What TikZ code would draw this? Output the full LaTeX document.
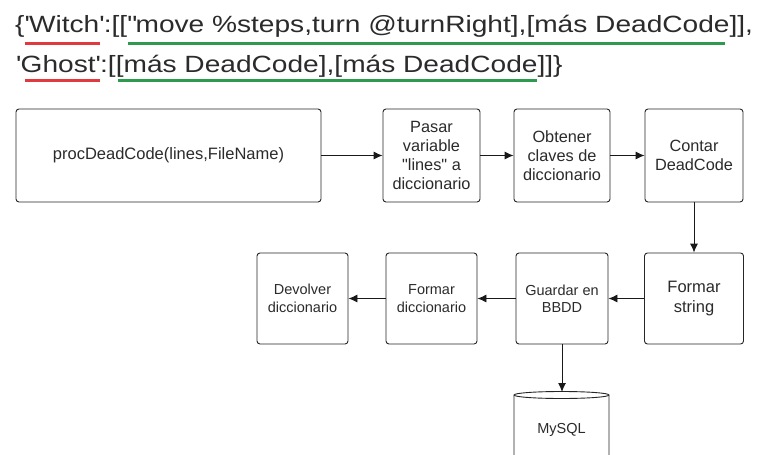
\documentclass[tikz,border=0pt]{standalone}
\usepackage{fontspec}
\usetikzlibrary{arrows.meta}
\setmainfont{Liberation Sans}
\newfontfamily\codefont[FakeStretch=1.196]{Liberation Sans}
\definecolor{tinta}{HTML}{2B2B2B}
\definecolor{rojo}{HTML}{E0393E}
\definecolor{verde}{HTML}{2E9A4E}
\tikzset{
	paso/.style={draw=black!85, line width=0.9pt, rounded corners=3pt, fill=white, align=center, text=tinta, inner sep=2pt, minimum height=93pt, font=\fontsize{16.3}{19}\selectfont},
	pasoB/.style={paso, minimum height=91pt, font=\fontsize{14.5}{17.5}\selectfont},
	flecha/.style={-{Latex[length=9pt,width=8pt]}, line width=0.9pt, black!90},
	subraya/.style={line width=3pt},
}

\begin{document}
\begin{tikzpicture}[x=1pt,y=-1pt]
		\clip (0,0) rectangle (758,455);
		\fill[white] (0,0) rectangle (758,455);
		
		\node (linea1) [at={(15,32)}, anchor=base west, inner sep=0, text=tinta, font=\codefont\fontsize{23.5}{28}\selectfont] {\{\textquotesingle Witch\textquotesingle :[[\textquotedbl move \%steps,turn @turnRight],[más DeadCode]],};
		\node (linea2) [at={(16,72)}, anchor=base west, inner sep=0, text=tinta, font=\codefont\fontsize{23.5}{28}\selectfont] {\textquotesingle Ghost\textquotesingle :[[más DeadCode],[más DeadCode]]\}};
		\draw[subraya, rojo] (25,43) -- (100,43);
		\draw[subraya, verde] (128,43) -- (725,43);
		\draw[subraya, rojo] (25,80.5) -- (100,80.5);
		\draw[subraya, verde] (118,80.5) -- (537,80.5);
		
		\node (proc) [paso, at={(168.5,155.5)}, minimum width=305pt, font=\fontsize{16.5}{19}\selectfont] {procDeadCode(lines,FileName)};
		\node (pasar) [paso, at={(431.5,155.5)}, minimum width=97pt] {Pasar\\variable\\\textquotedbl lines\textquotedbl{} a\\diccionario};
		\node (obtener) [paso, at={(562,155.5)}, minimum width=96pt] {Obtener\\claves de\\diccionario};
		\node (contar) [paso, at={(694,155.5)}, minimum width=98pt] {Contar\\DeadCode};
		
		\node (fstring) [pasoB, at={(694,298.5)}, minimum width=99pt, font=\fontsize{16.5}{20}\selectfont] {Formar\\string};
		\node (guardar) [pasoB, at={(562,298.5)}, minimum width=92pt] {Guardar en\\BBDD};
		\node (fdicc) [pasoB, at={(431.5,298.5)}, minimum width=91pt] {Formar\\diccionario};
		\node (devolver) [pasoB, at={(302.5,298.5)}, minimum width=91pt] {Devolver\\diccionario};
		
		\draw[draw=black!85, line width=0.9pt, fill=white] (514,470) -- (514,395) arc (180:360:47.5 and 3.5) -- (609,470);
		\draw[draw=black!85, line width=0.9pt] (514,395) arc (180:0:47.5 and 3.5);
		\coordinate (dbtop) at (562,392);
		\node (mysql) [at={(561.5,430)}, text=tinta, font=\fontsize{14.5}{17.5}\selectfont] {MySQL};
		
		\draw[flecha] (proc) -- (pasar);
		\draw[flecha] (pasar) -- (obtener);
		\draw[flecha] (obtener) -- (contar);
		\draw[flecha] (contar) -- (fstring);
		\draw[flecha] (fstring) -- (guardar);
		\draw[flecha] (guardar) -- (fdicc);
		\draw[flecha] (fdicc) -- (devolver);
		\draw[flecha] (guardar) -- (dbtop);
		\end{tikzpicture}
\end{document}
